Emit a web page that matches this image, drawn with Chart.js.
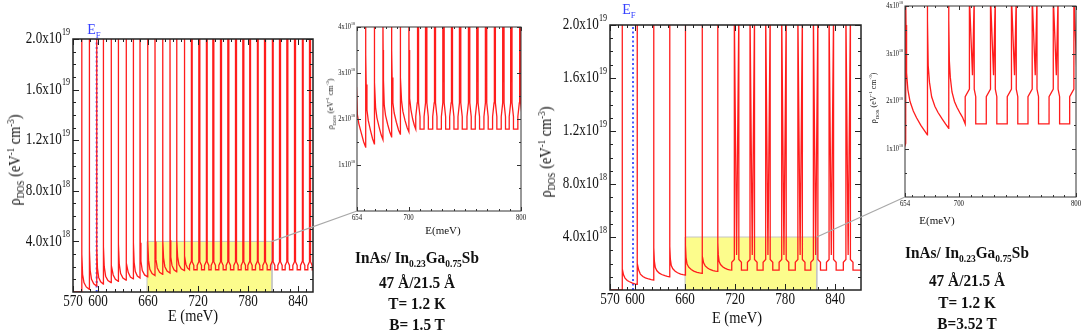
<!DOCTYPE html>
<html>
<head>
<meta charset="utf-8">
<script src="https://cdn.jsdelivr.net/npm/chart.js@4.4.1/dist/chart.umd.min.js"></script>
<style>
  body { margin: 0; background: #fff; width: 1084px; height: 331px; overflow: hidden; position: relative;
         font-family: 'Liberation Serif', 'Times New Roman', serif; color: #111; }
  canvas { position: absolute; }
  .t { position: absolute; white-space: nowrap; line-height: 1; }
  .t sub, .t sup { font-size: 0.62em; line-height: 0; }
  .note { font-weight: bold; font-size: 17px; }
  .ef { color: #3440ff; font-size: 14px; }
  svg { position: absolute; left: 0; top: 0; pointer-events: none; }
</style>
</head>
<body>
<canvas id="lm"></canvas>
<canvas id="li"></canvas>
<canvas id="rm"></canvas>
<canvas id="ri"></canvas>

<div class="t" style="left:193px;top:315px;font-size:17px;transform:translate(-50%,-50%) scaleX(0.85)">E (meV)</div>
<div class="t" style="left:15px;top:160px;font-size:16px;transform:translate(-50%,-50%) rotate(-90deg) scaleX(0.9)">&rho;<sub>DOS</sub> (eV<sup>-1</sup> cm<sup>-3</sup>)</div>
<div class="t ef" style="left:94px;top:30px;transform:translate(-50%,-50%)">E<sub>F</sub></div>
<div class="t" style="left:443px;top:230px;font-size:11px;transform:translate(-50%,-50%)">E(meV)</div>
<div class="t" style="left:331px;top:104px;font-size:8px;transform:translate(-50%,-50%) rotate(-90deg)">&rho;<sub>DOS</sub> (eV<sup>-1</sup> cm<sup>-3</sup>)</div>
<div class="t note" style="left:417px;top:257px;transform:translate(-50%,-50%) scaleX(0.9)">InAs/ In<sub>0.23</sub>Ga<sub>0.75</sub>Sb</div>
<div class="t note" style="left:417px;top:282px;transform:translate(-50%,-50%) scaleX(0.9)">47 Å/21.5 Å</div>
<div class="t note" style="left:417px;top:303px;transform:translate(-50%,-50%) scaleX(0.9)">T= 1.2 K</div>
<div class="t note" style="left:417px;top:324px;transform:translate(-50%,-50%) scaleX(0.9)">B= 1.5 T</div>

<div class="t" style="left:737px;top:317px;font-size:17px;transform:translate(-50%,-50%) scaleX(0.85)">E (meV)</div>
<div class="t" style="left:546px;top:152px;font-size:16px;transform:translate(-50%,-50%) rotate(-90deg) scaleX(0.9)">&rho;<sub>DOS</sub> (eV<sup>-1</sup> cm<sup>-3</sup>)</div>
<div class="t ef" style="left:629px;top:10px;transform:translate(-50%,-50%)">E<sub>F</sub></div>
<div class="t" style="left:937px;top:220px;font-size:11px;transform:translate(-50%,-50%)">E(meV)</div>
<div class="t" style="left:874px;top:98px;font-size:8px;transform:translate(-50%,-50%) rotate(-90deg)">&rho;<sub>DOS</sub> (eV<sup>-1</sup> cm<sup>-3</sup>)</div>
<div class="t note" style="left:967px;top:252px;transform:translate(-50%,-50%) scaleX(0.9)">InAs/ In<sub>0.23</sub>Ga<sub>0.75</sub>Sb</div>
<div class="t note" style="left:967px;top:280px;transform:translate(-50%,-50%) scaleX(0.9)">47 Å/21.5 Å</div>
<div class="t note" style="left:967px;top:302px;transform:translate(-50%,-50%) scaleX(0.9)">T= 1.2 K</div>
<div class="t note" style="left:967px;top:323px;transform:translate(-50%,-50%) scaleX(0.9)">B=3.52 T</div>

<svg id="links" width="1084" height="331"></svg>

<script>
// energies in meV, densities in units of 1e18 eV^-1 cm^-3
const mainXTicks = [570, 600, 660, 720, 780, 840];
const mainYTicks = [4, 8, 12, 16, 20];
const insetXTicks = [654, 700, 800];
const insetYTicks = [1, 2, 3, 4];

// ---- B = 1.5 T, full range
const lmPeaks = [580.4, 589.6, 598.4, 606.4, 615.6, 624.4, 633.6, 642.4, 650.4, 659.6, 668.4, 677.6, 686.4, 694.4, 703.6];
const lmTroughs = [0, 0.21, 0.47, 0.63, 0.74, 0.85, 0.95, 1.03, 1.11, 1.2, 1.3, 1.4, 1.5, 1.6, 1.7];
const lmTailAt = [0.04, 0.12, 0.3, 0.6];   // where the tail values below sit between two peaks
const lmTails = [
  [3.0, 1.4, 0.75, 0.4], [3.3, 1.7, 1.0, 0.65], [3.5, 1.9, 1.15, 0.8], [3.6, 2.0, 1.25, 0.9],
  [3.7, 2.1, 1.35, 1.0], [3.8, 2.2, 1.45, 1.1], [3.8, 2.3, 1.55, 1.18], [3.9, 2.35, 1.62, 1.26],
  [3.9, 2.45, 1.7, 1.35], [4.0, 2.5, 1.8, 1.45], [4.0, 2.6, 1.9, 1.55], [4.1, 2.7, 2.0, 1.65],
  [4.1, 2.75, 2.1, 1.75], [4.1, 2.8, 2.15, 1.84], [4.1, 2.85, 2.2, 1.9]];
const lmNotches = [712.4, 721.6, 730.4, 738.4, 747.6, 756.4, 765.6, 774.4, 782.4, 791.6, 800.4, 809.6, 818.4, 827.2, 836.4, 845.6, 854.4];
const lmLevels = [1.76, 2.1, 2.4, 2.9];      // plateau, low shoulder, high shoulder, notch
const lmShape = [-2.6, -0.6, 0.6, 2.6];      // rise, spike A, spike B, drop (meV from notch)
const lmFermi = 598.4;
const lmZoomBox = [658.8, 808.8, 4];

// ---- B = 1.5 T, inset 654-800
const liPeaks = [653.0, 661.7, 669.4, 677.1, 684.8, 692.5, 700.2];
const liTroughs = [1.0, 1.39, 1.46, 1.55, 1.61, 1.67, 1.72];
const liTailAt = [0.02, 0.06, 0.15, 0.3, 0.55, 0.8];
const liTails = [
  [3.4, 2.7, 2.1, 1.9, 1.7, 1.5], [3.4, 2.75, 2.2, 1.97, 1.76, 1.57], [3.45, 2.8, 2.25, 2.03, 1.83, 1.65],
  [3.5, 2.85, 2.3, 2.08, 1.88, 1.71], [3.5, 2.9, 2.35, 2.13, 1.93, 1.76], [3.5, 2.9, 2.4, 2.17, 1.97, 1.81],
  [3.5, 2.95, 2.45, 2.2, 2.0, 1.86]];
const liNotches = [708.2, 715.6, 723.3, 731, 738.4, 745.8, 753.8, 761.2, 768.9, 776.6, 784.3, 791.4, 799.1];
const liLevels = [1.78, 2.05, 2.35, 2.8];
const liShape = [-1.9, -0.6, 0.6, 1.9];

// ---- B = 3.52 T, full range
const rmPeaks = [584.4, 602.4, 622.4, 641.6, 660.4, 680.4, 699.2];
const rmTroughs = [0, 0.43, 0.75, 1.0, 1.13, 1.26, 1.4];
const rmTailAt = [0.015, 0.04, 0.1, 0.2, 0.35, 0.5, 0.7, 0.85];
const rmTails = [
  [2.8, 1.6, 1.15, 0.9, 0.72, 0.62, 0.52, 0.47],
  [3.0, 2.0, 1.5, 1.2, 1.02, 0.92, 0.83, 0.78],
  [3.2, 2.2, 1.7, 1.45, 1.27, 1.17, 1.08, 1.03],
  [3.3, 2.35, 1.85, 1.6, 1.42, 1.3, 1.2, 1.16],
  [3.4, 2.45, 1.95, 1.72, 1.55, 1.43, 1.33, 1.29],
  [3.5, 2.55, 2.05, 1.82, 1.66, 1.55, 1.46, 1.42],
  [3.6, 2.65, 2.15, 1.92, 1.76, 1.65, 1.56, 1.52]];
const rmNotches = [721.8, 740.6, 759.4, 778.6, 798, 816.6, 835.4, 855.6];
const rmLevels = [1.5, 2.1, 2.3, 2.65];
const rmShape = [-5.8, -2.7, 2.7, 5.8];
const rmFermi = 597.6;
const rmZoomBox = [660, 818, 4];

// ---- B = 3.52 T, inset 654-800
const riPeaks = [654.6, 673.1, 691.3];
const riTroughs = [1.12, 1.30, 1.44];
const riTailAt = [0.015, 0.04, 0.1, 0.2, 0.35, 0.5, 0.7, 0.85];
const riTails = [
  [3.6, 2.6, 2.25, 2.0, 1.8, 1.66, 1.5, 1.4],
  [3.7, 2.75, 2.4, 2.1, 1.9, 1.77, 1.63, 1.53],
  [3.7, 2.85, 2.5, 2.2, 2.0, 1.88, 1.75, 1.66]];
const riNotches = [711.6, 729.6, 747.5, 765.2, 783.2, 800.8];
const riLevels = [1.53, 2.1, 2.26, 2.55];
const riShape = [-6.2, -2.6, 1.5, 2.8];

const FONT = "'Liberation Serif', 'Times New Roman', serif";
const RED = '#ff1c1c';

function buildCurve(lead, peaks, troughs, tailAt, tails, notches, shape, levels, top, xEnd) {
  const [plateau, lo, hi, dip] = levels;
  const [rise, a, b, drop] = shape;
  const pts = lead.map(([x, y]) => ({ x, y }));
  const firstRise = notches.length ? notches[0] + rise : xEnd;
  peaks.forEach((p, i) => {
    const last = i === peaks.length - 1;
    const next = last ? firstRise : peaks[i + 1];
    pts.push({ x: p, y: troughs[i] }, { x: p, y: top });
    tails[i].forEach((v, k) => pts.push({ x: p + tailAt[k] * (next - p), y: v }));
    pts.push({ x: next, y: last ? plateau : troughs[i + 1] });
  });
  notches.forEach(n => {
    pts.push(
      { x: n + rise, y: plateau }, { x: n + rise, y: lo }, { x: n + a, y: hi }, { x: n + a, y: top },
      { x: n, y: dip },
      { x: n + b, y: top }, { x: n + b, y: hi }, { x: n + drop, y: lo }, { x: n + drop, y: plateau });
  });
  pts.push({ x: xEnd, y: plateau });
  return pts;
}

function squeezed(ctx, text, x, y, sq) {
  ctx.save();
  ctx.translate(x, y);
  ctx.scale(sq, 1);
  ctx.fillText(text, 0, 0);
  ctx.restore();
}

// frame, inward ticks on four sides and tick labels, all placed through the chart scales
const framePlugin = {
  id: 'frame',
  afterDatasetsDraw(chart, args, o) {
    const { ctx, chartArea: a, scales: { x, y } } = chart;
    ctx.save();
    ctx.strokeStyle = o.color;
    ctx.lineWidth = o.lineWidth;
    ctx.strokeRect(a.left, a.top, a.right - a.left, a.bottom - a.top);
    ctx.lineWidth = 1;
    ctx.beginPath();
    const xTick = (v, len) => {
      const p = Math.round(x.getPixelForValue(v)) + 0.5;
      ctx.moveTo(p, a.bottom); ctx.lineTo(p, a.bottom - len);
      ctx.moveTo(p, a.top); ctx.lineTo(p, a.top + len);
    };
    const yTick = (v, len) => {
      const p = Math.round(y.getPixelForValue(v)) + 0.5;
      ctx.moveTo(a.left, p); ctx.lineTo(a.left + len, p);
      ctx.moveTo(a.right, p); ctx.lineTo(a.right - len, p);
    };
    o.xMinor.forEach(v => xTick(v, o.minorLen));
    o.xMajor.forEach(v => xTick(v, o.majorLen));
    o.yMinor.forEach(v => yTick(v, o.minorLen));
    o.yMajor.forEach(v => yTick(v, o.majorLen));
    ctx.stroke();

    ctx.fillStyle = '#111';
    ctx.textBaseline = 'top';
    ctx.textAlign = 'center';
    ctx.font = `${o.xFont}px ${FONT}`;
    o.xMajor.forEach(v => squeezed(ctx, String(v), x.getPixelForValue(v), a.bottom + o.xGap, o.squeeze));

    ctx.textAlign = 'left';
    ctx.textBaseline = 'middle';
    o.yMajor.forEach(v => {
      const [mant, exp] = o.yLabel(v);
      ctx.font = `${o.yFont}px ${FONT}`;
      const mw = ctx.measureText(mant).width;
      ctx.font = `${o.yFont * 0.62}px ${FONT}`;
      const ew = ctx.measureText(exp).width;
      const py = y.getPixelForValue(v);
      const x0 = a.left - o.yGap - (mw + ew) * o.squeeze;
      ctx.font = `${o.yFont}px ${FONT}`;
      squeezed(ctx, mant, x0, py, o.squeeze);
      ctx.font = `${o.yFont * 0.62}px ${FONT}`;
      squeezed(ctx, exp, x0 + mw * o.squeeze, py - o.yFont * 0.42, o.squeeze);
    });
    ctx.restore();
  }
};

const mainLabel = v => v >= 10 ? [(v / 10).toFixed(1) + 'x10', '19'] : [v.toFixed(1) + 'x10', '18'];
const insetLabel = v => [v + 'x10', '18'];

function range(from, to, step) {
  const out = [];
  for (let v = from; v <= to + 1e-9; v += step) out.push(+v.toFixed(3));
  return out;
}

function makeChart(id, area, m, xr, yMax, datasets, frame) {
  const cv = document.getElementById(id);
  const w = m[0] + area[2] - area[0] + m[2];
  const h = m[1] + area[3] - area[1] + m[3];
  cv.width = w; cv.height = h;
  cv.style.width = w + 'px'; cv.style.height = h + 'px';
  cv.style.left = (area[0] - m[0]) + 'px';
  cv.style.top = (area[1] - m[1]) + 'px';
  const chart = new Chart(cv, {
    type: 'line',
    data: { datasets },
    options: {
      responsive: false, animation: false, events: [],
      devicePixelRatio: 1,
      layout: { padding: { left: 0, top: m[1], right: m[2], bottom: 0 } },
      plugins: { legend: { display: false }, tooltip: { enabled: false }, frame },
      scales: {
        x: { type: 'linear', min: xr[0], max: xr[1], grid: { display: false }, border: { display: false },
             ticks: { display: false }, afterFit: s => { s.height = m[3]; } },
        y: { type: 'linear', min: 0, max: yMax, grid: { display: false }, border: { display: false },
             ticks: { display: false }, afterFit: s => { s.width = m[0]; } }
      }
    },
    plugins: [framePlugin]
  });
  chart.offset = [area[0] - m[0], area[1] - m[1]];
  return chart;
}

const curveStyle = { borderColor: RED, borderWidth: 1.3, pointRadius: 0, tension: 0, clip: 0, order: 0 };
const fermiStyle = { borderColor: '#4a5cff', borderWidth: 2, borderDash: [2, 2.5], pointRadius: 0, order: 1, clip: 0 };
const boxStyle = { borderColor: '#c4c4c4', borderWidth: 1, backgroundColor: '#fcfc8c', fill: 'origin', pointRadius: 0, order: 2, clip: 0 };

function boxData(b) {
  return [{ x: b[0], y: 0 }, { x: b[0], y: b[2] }, { x: b[1], y: b[2] }, { x: b[1], y: 0 }];
}

const mainFrame = ext => Object.assign({
  color: '#222', lineWidth: 1.5, majorLen: 6, minorLen: 3,
  xMajor: mainXTicks, xMinor: range(580, 850, 10),
  yMajor: mainYTicks, yMinor: range(1, 19, 1),
  xFont: 16, yFont: 16, xGap: 2, yGap: 3, squeeze: 0.82, yLabel: mainLabel
}, ext);
const insetFrame = ext => Object.assign({
  color: '#333', lineWidth: 1, majorLen: 4, minorLen: 2,
  xMajor: insetXTicks, xMinor: range(660, 790, 10),
  yMajor: insetYTicks, yMinor: range(0.5, 3.5, 0.5),
  xFont: 8, yFont: 7.5, xGap: 3, yGap: 2, squeeze: 0.85, yLabel: insetLabel
}, ext);

const lm = makeChart('lm', [73, 39, 313, 292], [73, 39, 7, 39], [570, 858], 20, [
  Object.assign({ data: buildCurve([[570, 0]], lmPeaks, lmTroughs, lmTailAt, lmTails, lmNotches, lmShape, lmLevels, 21, 858) }, curveStyle),
  Object.assign({ data: [{ x: lmFermi, y: 0 }, { x: lmFermi, y: 20 }] }, fermiStyle),
  Object.assign({ data: boxData(lmZoomBox) }, boxStyle)
], mainFrame({}));

const li = makeChart('li', [357, 27, 521, 211], [57, 10, 12, 15], [654, 800], 4, [
  Object.assign({ data: buildCurve([], liPeaks, liTroughs, liTailAt, liTails, liNotches, liShape, liLevels, 4.2, 802) }, curveStyle)
], insetFrame({}));

const rm = makeChart('rm', [610, 25, 861, 290], [70, 25, 8, 41], [570, 871], 20, [
  Object.assign({ data: buildCurve([[570, 0]], rmPeaks, rmTroughs, rmTailAt, rmTails, rmNotches, rmShape, rmLevels, 21, 871) }, curveStyle),
  Object.assign({ data: [{ x: rmFermi, y: 0 }, { x: rmFermi, y: 20 }] }, fermiStyle),
  Object.assign({ data: boxData(rmZoomBox) }, boxStyle)
], mainFrame({}));

const ri = makeChart('ri', [905, 6, 1076, 197], [60, 6, 8, 15], [654, 800], 4, [
  Object.assign({ data: buildCurve([[653, 1.0]], riPeaks, riTroughs, riTailAt, riTails, riNotches, riShape, riLevels, 4.2, 802) }, curveStyle)
], insetFrame({}));

// grey leader lines from each zoom box to its inset
function leader(main, box, inset) {
  const x1 = main.offset[0] + main.scales.x.getPixelForValue(box[1]);
  const y1 = main.offset[1] + main.scales.y.getPixelForValue(box[2]);
  const x2 = inset.offset[0] + inset.chartArea.left;
  const y2 = inset.offset[1] + inset.chartArea.bottom;
  return `<line x1="${x1}" y1="${y1}" x2="${x2}" y2="${y2}" stroke="#a8a8a8" stroke-width="1.2"/>`;
}
document.getElementById('links').innerHTML = leader(lm, lmZoomBox, li) + leader(rm, rmZoomBox, ri);
</script>
</body>
</html>
